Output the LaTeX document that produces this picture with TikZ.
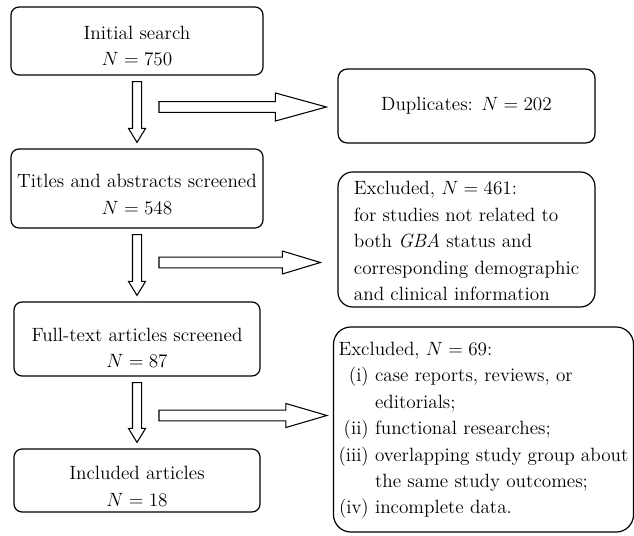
\documentclass[tikz,border=0pt]{standalone}
\usepackage{fontspec}
\usetikzlibrary{calc}

\newcommand{\boxfont}{\fontsize{14.4}{19.8}\selectfont}
\newcommand{\lift}[1]{\rule{0pt}{#1}}
\tikzset{
  flowbox/.style={draw, line width=0.9pt, rounded corners=6pt, align=center, inner sep=2pt, font=\boxfont},
  notebox/.style={draw, line width=0.9pt, rounded corners=11pt, align=left, inner sep=2pt, font=\boxfont},
  blockarrow/.style={draw, line width=0.8pt, fill=white, line join=miter},
}
\newcommand{\hollowdown}[2]{%
  \draw[blockarrow] let \p1=([yshift=-4.5pt]#1.south), \p2=([yshift=4.5pt]#2.north) in
    (\x1-3.4pt,\y1) -- (\x1-3.4pt,\y2+10.5pt) -- (\x1-6.4pt,\y2+10.5pt) -- (\x1,\y2)
    -- (\x1+6.4pt,\y2+10.5pt) -- (\x1+3.4pt,\y2+10.5pt) -- (\x1+3.4pt,\y1) -- cycle;}
\newcommand{\hollowright}[5]{%
  \draw[blockarrow] let \p1=(#1), \p2=([xshift=-#3]#2.west) in
    (\x1,\y1+4pt) -- (\x2-#4,\y1+4pt) -- (\x2-#4,\y1+#5) -- (\x2,\y1)
    -- (\x2-#4,\y1-#5) -- (\x2-#4,\y1-4pt) -- (\x1,\y1-4pt) -- cycle;}

\begin{document}
\begin{tikzpicture}[x=0.75pt,y=-0.75pt,line cap=round,line join=round]
\useasboundingbox (0,0) rectangle (634,535);
% left column
\node[flowbox, minimum width=189pt, minimum height=51pt] (init) at (137,41) {\lift{17.5pt}Initial search\\$N=750$};
\node[flowbox, minimum width=189pt, minimum height=59.25pt] (titles) at (137,188.5) {\lift{19pt}Titles and abstracts screened\\$N=548$};
\node[flowbox, minimum width=184.5pt, minimum height=55.5pt] (full) at (137,339) {\lift{23.5pt}Full-text articles screened\\$N=87$};
\node[flowbox, minimum width=184.5pt, minimum height=47.25pt] (incl) at (137,480.5) {\lift{19pt}Included articles\\$N=18$};
% right column
\node[flowbox, rounded corners=7pt, minimum width=192.75pt, minimum height=55.5pt] (dup) at (466.5,106) {Duplicates: $N=202$};
\node[notebox, minimum width=192.75pt, minimum height=101.25pt] (exc1) at (466.5,239.5) {\lift{12.5pt}Excluded, $N=461$:\\for studies not related to\\both \textit{GBA} status and\\corresponding demographic\\and clinical information};
\node[notebox, rounded corners=13pt, inner xsep=0pt, minimum width=225pt, minimum height=153.75pt] (exc2) at (483.5,429.5) {%
  \begin{tabular}{@{}r@{\ }l@{}}
  \multicolumn{2}{@{}l@{}}{Excluded, $N=69$:}\\
  (i) & case reports, reviews, or\\
      & editorials;\\
  (ii) & functional researches;\\
  (iii) & overlapping study group about\\
      & the same study outcomes;\\
  (iv) & incomplete data.
  \end{tabular}};
\coordinate (d1) at (159,107);
\coordinate (d2) at (159,262.5);
\coordinate (d3) at (159,415.5);
\hollowdown{init}{titles}
\hollowdown{titles}{full}
\hollowdown{full}{incl}
\hollowright{d1}{dup}{8.25pt}{38.25pt}{10.5pt}
\hollowright{d2}{exc1}{12.75pt}{28.5pt}{8.6pt}
\hollowright{d3}{exc2}{4.5pt}{30.75pt}{9pt}
\end{tikzpicture}
\end{document}
